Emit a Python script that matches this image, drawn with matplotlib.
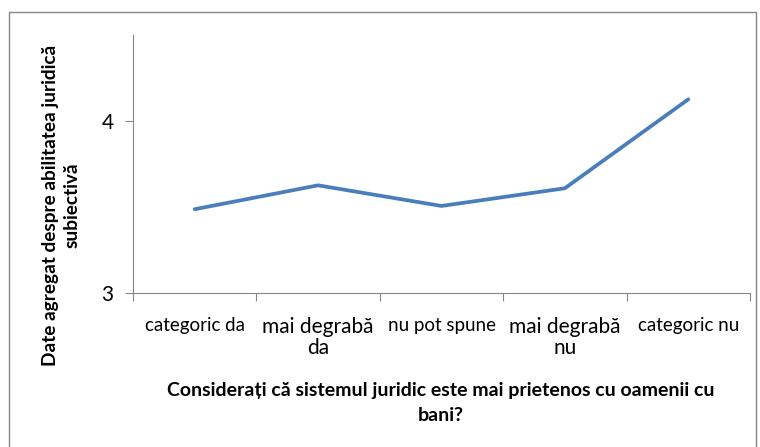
import matplotlib
matplotlib.use("Agg")
import matplotlib.pyplot as plt
from matplotlib.patches import Rectangle
import numpy as np

plt.rcParams['font.family'] = ['Lato', 'DejaVu Sans']

categories = ["categoric da", "mai degrabă\nda", "nu pot spune", "mai degrabă\nnu", "categoric nu"]
values = [3.487, 3.626, 3.506, 3.609, 4.126]
label_sizes = [13.5, 15, 13.5, 15, 13.5]

W, H = 760, 447
fig = plt.figure(figsize=(W / 100, H / 100), dpi=100)

# outer chart border
fig.patches.append(Rectangle((9 / W, -0.05), (756 - 9) / W, 1.05 - 12 / H,
                             transform=fig.transFigure, fill=False,
                             edgecolor="#868686", linewidth=1.0))

ax = fig.add_axes([133 / W, (H - 293) / H, (750 - 133) / W, (293 - 35) / H])
x = np.arange(len(values)) + 0.5
ax.plot(x, values, color="#4A7EBB", linewidth=2.7, solid_capstyle="round")

ax.set_xlim(0, len(values))
ax.set_ylim(3, 4.5)
ax.set_yticks([3, 4])
ax.set_yticklabels(["3", "4"], fontsize=15)

ax.set_xticks(np.arange(len(values) + 1))
ax.set_xticklabels([])
ax.set_xticks(x, minor=True)
ax.set_xticklabels(categories, minor=True)
for lab, s in zip(ax.get_xticklabels(minor=True), label_sizes):
    lab.set_fontsize(s)
    lab.set_linespacing(1.1)

ax.tick_params(axis="x", which="major", direction="out", length=6, color="#868686")
ax.tick_params(axis="x", which="minor", length=0, pad=17)
ax.tick_params(axis="y", direction="out", length=6, color="#868686", pad=8)

for side in ["top", "right"]:
    ax.spines[side].set_visible(False)
for side in ["left", "bottom"]:
    ax.spines[side].set_color("#868686")

fig.text(61 / W, 1 - 205 / H, "Date agregat despre abilitatea juridică\nsubiectivă",
         rotation=90, ha="center", va="center", fontsize=13.7, fontweight="bold",
         multialignment="center", linespacing=1.3)
fig.text(441 / W, 1 - 403 / H,
         "Considerați că sistemul juridic este mai prietenos cu oamenii cu\nbani?",
         ha="center", va="center", fontsize=14, fontweight="bold",
         multialignment="center", linespacing=1.6)

fig.savefig("out.png", dpi=100)
